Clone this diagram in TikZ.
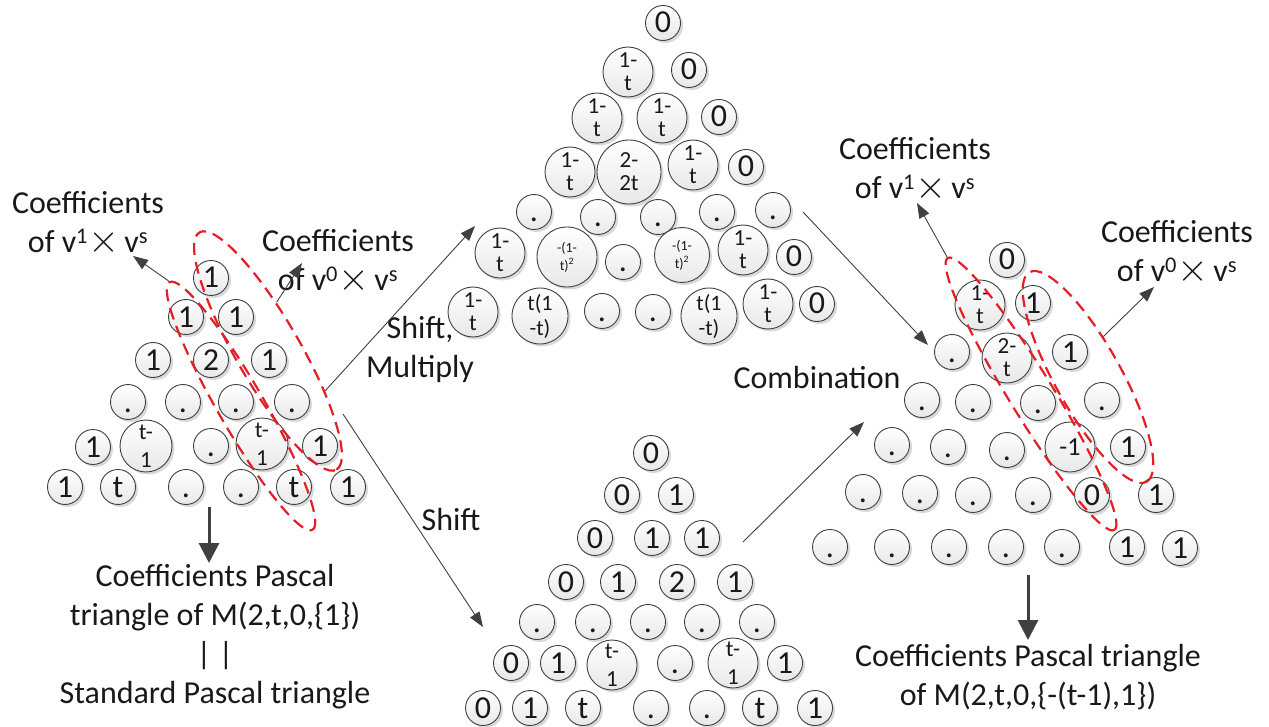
\documentclass[tikz,border=0pt]{standalone}
\usepackage{fontspec}
\setmainfont{Carlito}
\usepackage{tikz}
\usetikzlibrary{positioning, shapes, arrows.meta, shapes.geometric, shadows}
\definecolor{ringred}{RGB}{228,30,38}
\newcommand{\bigtimes}{\smash{\scalebox{1.6}{$\times$}}\,}

\begin{document}
\begin{tikzpicture}[x=1pt, y=-1pt, >={Triangle[length=15pt, width=11pt]},
        every node/.style={text=black!90},
        coefbase/.style={circle, draw=black!75, line width=0.9pt, inner sep=0pt,
          top color=white, middle color=white, bottom color=black!9,
          drop shadow={shadow xshift=2.5pt, shadow yshift=-2.5pt, fill=black!15, opacity=1}},
        coef/.style={coefbase, minimum size=35pt, font=\fontsize{32}{32}\selectfont, text height=20pt, text depth=0pt},
        coefpair/.style={coefbase, minimum size=50pt, align=center, font=\fontsize{23}{23}\selectfont},
        tcell/.style={coefpair, minimum size=52pt, font=\fontsize{23}{28}\selectfont},
        redring/.style={draw=ringred, ellipse, line width=2.2pt, dash pattern=on 12pt off 7pt, inner sep=0pt},
        note/.style={align=center, font=\fontsize{32}{39}\selectfont},
        flow/.style={->, draw=black!75, line width=0.9pt},
        down/.style={-{Triangle[length=20pt, width=20pt]}, draw=black!75, line width=3pt}]
      \useasboundingbox (0,0) rectangle (1269,727);

      % Left triangle: standard Pascal triangle
      \node[coef] (L00) at (211,278) {1};
      \node[coef] (L10) at (186,317) {1};
      \node[coef] (L11) at (236,317) {1};
      \node[coef] (L20) at (153,360) {1};
      \node[coef] (L21) at (211,360) {2};
      \node[coef] (L22) at (269,360) {1};
      \node[coef] (L30) at (128,402) {.};
      \node[coef] (L31) at (183,402) {.};
      \node[coef] (L32) at (236,402) {.};
      \node[coef] (L33) at (292,402) {.};
      \node[coef] (L40) at (93,447) {1};
      \node[tcell] (L41) at (146,446) {t-\\1};
      \node[coef] (L42) at (211,446) {.};
      \node[tcell] (L43) at (262,444) {t-\\1};
      \node[coef] (L44) at (320,446) {1};
      \node[coef] (L50) at (65,487) {1};
      \node[coef] (L51) at (118,487) {t};
      \node[coef] (L52) at (186,487) {.};
      \node[coef] (L53) at (241,487) {.};
      \node[coef] (L54) at (294,487) {t};
      \node[coef] (L55) at (348,487) {1};

      % Top triangle: shift and multiply
      \node[coef] (T00) at (663,23) {0};
      \node[coefpair] (T10) at (628,72) {1-\\t};
      \node[coef] (T11) at (689,70) {0};
      \node[coefpair] (T20) at (597,118) {1-\\t};
      \node[coefpair] (T21) at (662,118) {1-\\t};
      \node[coef] (T22) at (719,117) {0};
      \node[coefpair] (T30) at (570,172) {1-\\t};
      \node[coefpair, minimum size=64pt] (T31) at (629,172) {2-\\2t};
      \node[coefpair] (T32) at (693,165) {1-\\t};
      \node[coef] (T33) at (746,167) {0};
      \node[coef] (T40) at (534,212) {.};
      \node[coef] (T41) at (598,217) {.};
      \node[coef] (T42) at (658,217) {.};
      \node[coef] (T43) at (717,212) {.};
      \node[coef] (T44) at (773,210) {.};
      \node[coefpair] (T50) at (500,253) {1-\\t};
      \node[coefpair, minimum size=60pt, font=\fontsize{14}{18}\selectfont] (T51) at (567,257) {-(1-\\t)\textsuperscript{2}};
      \node[coef] (T52) at (623,262) {.};
      \node[coefpair, minimum size=55pt, font=\fontsize{14}{18}\selectfont] (T53) at (682,255) {-(1-\\t)\textsuperscript{2}};
      \node[coefpair] (T54) at (743,250) {1-\\t};
      \node[coef] (T55) at (794,257) {0};
      \node[coefpair] (T60) at (473,312) {1-\\t};
      \node[coefpair, minimum size=56pt, font=\fontsize{22}{25}\selectfont] (T61) at (540,316) {t(1\\-t)};
      \node[coef] (T62) at (602,311) {.};
      \node[coef] (T63) at (653,312) {.};
      \node[coefpair, minimum size=56pt, font=\fontsize{22}{25}\selectfont] (T64) at (709,316) {t(1\\-t)};
      \node[coefpair] (T65) at (768,304) {1-\\t};
      \node[coef] (T66) at (817,304) {0};

      % Bottom triangle: shift
      \node[coef] (B00) at (651,453) {0};
      \node[coef] (B10) at (622,495) {0};
      \node[coef] (B11) at (676,495) {1};
      \node[coef] (B20) at (595,538) {0};
      \node[coef] (B21) at (652,538) {1};
      \node[coef] (B22) at (702,538) {1};
      \node[coef] (B30) at (566,582) {0};
      \node[coef] (B31) at (618,582) {1};
      \node[coef] (B32) at (677,582) {2};
      \node[coef] (B33) at (735,582) {1};
      \node[coef] (B40) at (537,622) {.};
      \node[coef] (B41) at (593,622) {.};
      \node[coef] (B42) at (648,622) {.};
      \node[coef] (B43) at (702,622) {.};
      \node[coef] (B44) at (757,622) {.};
      \node[coef] (B50) at (511,663) {0};
      \node[coef] (B51) at (558,663) {1};
      \node[tcell, minimum size=50pt] (B52) at (612,665) {t-\\1};
      \node[coef] (B53) at (675,663) {.};
      \node[tcell, minimum size=50pt] (B54) at (733,663) {t-\\1};
      \node[coef] (B55) at (785,663) {1};
      \node[coef] (B60) at (483,708) {0};
      \node[coef] (B61) at (530,708) {1};
      \node[coef] (B62) at (583,708) {t};
      \node[coef] (B63) at (651,708) {.};
      \node[coef] (B64) at (707,708) {.};
      \node[coef] (B65) at (760,708) {t};
      \node[coef] (B66) at (815,708) {1};

      % Right triangle: combination
      \node[coef] (R00) at (1007,260) {0};
      \node[coefpair] (R10) at (980,305) {1-\\t};
      \node[coef] (R11) at (1033,303) {1};
      \node[coef] (R20) at (952,352) {.};
      \node[coefpair] (R21) at (1007,358) {2-\\t};
      \node[coef] (R22) at (1070,352) {1};
      \node[coef] (R30) at (922,400) {.};
      \node[coef] (R31) at (973,402) {.};
      \node[coef] (R32) at (1038,403) {.};
      \node[coef] (R33) at (1102,400) {.};
      \node[coef] (R40) at (892,445) {.};
      \node[coef] (R41) at (948,447) {.};
      \node[coef] (R42) at (1007,450) {.};
      \node[coefpair, font=\fontsize{26}{26}\selectfont] (R43) at (1070,447) {-1};
      \node[coef] (R44) at (1128,447) {1};
      \node[coef] (R50) at (863,492) {.};
      \node[coef] (R51) at (920,493) {.};
      \node[coef] (R52) at (973,495) {.};
      \node[coef] (R53) at (1033,495) {.};
      \node[coef] (R54) at (1092,495) {0};
      \node[coef] (R55) at (1156,495) {1};
      \node[coef] (R60) at (830,547) {.};
      \node[coef] (R61) at (892,547) {.};
      \node[coef] (R62) at (949,547) {.};
      \node[coef] (R63) at (1006,547) {.};
      \node[coef] (R64) at (1062,547) {.};
      \node[coef] (R65) at (1127,547) {1};
      \node[coef] (R66) at (1180,548) {1};

      % Dashed rings round the diagonals
      \node[redring, minimum width=286pt, minimum height=46pt, rotate=-60] (ringA) at (241,406) {};
      \node[redring, minimum width=274pt, minimum height=64pt, rotate=-60] (ringB) at (268,351) {};
      \node[redring, minimum width=319pt, minimum height=44pt, rotate=-58.5] (ringC) at (1031,394) {};
      \node[redring, minimum width=240pt, minimum height=66pt, rotate=-60.8] (ringD) at (1088,377) {};

      % Labels
      \node[note] (v1L) at (88,222) {Coefficients\\of v\textsuperscript{1}\bigtimes v\textsuperscript{s}};
      \node[note] (v0L) at (338,260) {Coefficients\\of v\textsuperscript{0}\bigtimes v\textsuperscript{s}};
      \node[note] (v1R) at (915,168) {Coefficients\\of v\textsuperscript{1}\bigtimes v\textsuperscript{s}};
      \node[note] (v0R) at (1177,251) {Coefficients\\of v\textsuperscript{0}\bigtimes v\textsuperscript{s}};
      \node[note] (smLbl) at (420,349) {Shift,\\Multiply};
      \node[note] (shLbl) at (451,520) {Shift};
      \node[note] (cbLbl) at (817,378) {Combination};
      \node[note] (stdLbl) at (215,637) {Coefficients Pascal\\triangle of M(2,t,0,\{1\})\\| |\\Standard Pascal triangle};
      \node[note] (newLbl) at (1028,677) {Coefficients Pascal triangle\\of M(2,t,0,\{-(t-1),1\})};

      % Arrows from the rings to their labels
      \coordinate (v1Ltip) at (133,256);
      \coordinate (v0Ltip) at (302,263);
      \coordinate (v1Rtip) at (917,203);
      \coordinate (v0Rtip) at (1154,287);
      \draw[flow] (ringA.west) -- (v1Ltip);
      \draw[flow] (ringB.140) -- (v0Ltip);
      \draw[flow] (ringC.west) -- (v1Rtip);
      \draw[flow] (ringD.130) -- (v0Rtip);

      % Arrows between the triangles
      \coordinate (smTo) at (475,226);
      \coordinate (shFrom) at (343,414);
      \coordinate (shTo) at (483,627);
      \coordinate (tpFrom) at (803,212);
      \coordinate (tpTo) at (928,345);
      \coordinate (btFrom) at (743,542);
      \coordinate (btTo) at (864,422);
      \draw[flow] (ringB.25) -- (smTo);
      \draw[flow] (shFrom) -- (shTo);
      \draw[flow] (tpFrom) -- (tpTo);
      \draw[flow] (btFrom) -- (btTo);

      % Arrows down to the results
      \coordinate (ldFrom) at (209,507);
      \coordinate (ldTo) at (209,563);
      \coordinate (rdFrom) at (1028,575);
      \coordinate (rdTo) at (1028,640);
      \draw[down] (ldFrom) -- (ldTo);
      \draw[down] (rdFrom) -- (rdTo);
    \end{tikzpicture}
\end{document}
